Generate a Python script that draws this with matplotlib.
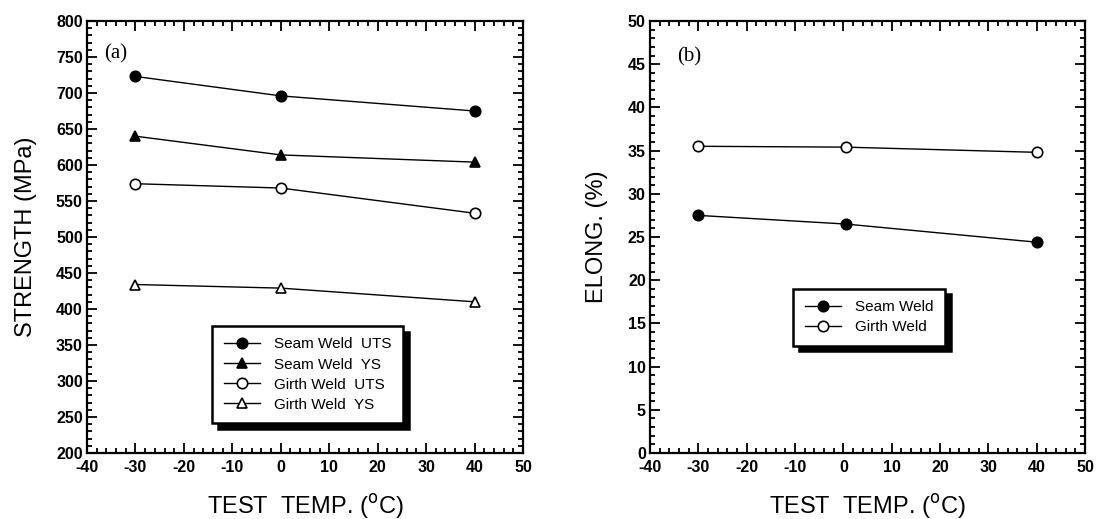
import matplotlib
matplotlib.use("Agg")
import matplotlib.pyplot as plt
from matplotlib.ticker import MultipleLocator

plt.rcParams['font.family'] = ['Liberation Sans', 'DejaVu Sans']

# test temperatures (deg C)
temps = [-30, 0, 40]
temps_b = [-30, 0.5, 40]

# strength (MPa), panel (a)
seam_uts = [723, 696, 675]
seam_ys = [640, 614, 604]
girth_uts = [574, 568, 533]
girth_ys = [434, 429, 410]

# elongation (%), panel (b)
seam_el = [27.5, 26.5, 24.4]
girth_el = [35.5, 35.4, 34.8]

fig = plt.figure(figsize=(10.99, 5.19), dpi=100)
W, H = 1099, 519
ax1 = fig.add_axes([87 / W, 1 - 453 / H, (523 - 87) / W, (453 - 21) / H])
ax2 = fig.add_axes([650 / W, 1 - 453 / H, (1085 - 650) / W, (453 - 21) / H])


def style_axis(ax, ymin, ymax, ymaj, ymin_step):
    ax.set_xlim(-40, 50)
    ax.set_ylim(ymin, ymax)
    ax.xaxis.set_major_locator(MultipleLocator(10))
    ax.xaxis.set_minor_locator(MultipleLocator(2))
    ax.yaxis.set_major_locator(MultipleLocator(ymaj))
    ax.yaxis.set_minor_locator(MultipleLocator(ymin_step))
    ax.tick_params(which='both', direction='in', top=True, right=True, width=1.3)
    ax.tick_params(which='major', length=7, labelsize=11.5, pad=3)
    ax.tick_params(axis='x', which='major', pad=5)
    ax.tick_params(which='minor', length=3.5)
    ax.xaxis.set_major_formatter(plt.FuncFormatter(lambda v, p: '%d' % v))
    ax.yaxis.set_major_formatter(plt.FuncFormatter(lambda v, p: '%d' % v))
    for lab in ax.get_xticklabels() + ax.get_yticklabels():
        lab.set_fontweight('bold')
    for sp in ax.spines.values():
        sp.set_linewidth(1.6)
    ax.set_xlabel('TEST  TEMP. ($^{\\mathrm{o}}$C)', fontsize=17, labelpad=12)


def add_legend(ax, loc):
    leg = ax.legend(loc='upper left', bbox_to_anchor=loc, fancybox=False,
                    shadow={'ox': 4, 'oy': -4, 'color': 'black', 'alpha': 1},
                    edgecolor='black', framealpha=1, fontsize=11,
                    handlelength=2.4, handletextpad=0.9, labelspacing=0.4,
                    borderpad=0.75, borderaxespad=0)
    leg.get_frame().set_linewidth(1.8)
    return leg


mk = dict(color='black', lw=1.0, ms=7.5, mec='black', mew=1.2)

# panel (a)
ax1.plot(temps, seam_uts, marker='o', mfc='black', label='Seam Weld  UTS', **mk)
ax1.plot(temps, seam_ys, marker='^', mfc='black', label='Seam Weld  YS', **mk)
ax1.plot(temps, girth_uts, marker='o', mfc='white', label='Girth Weld  UTS', **mk)
ax1.plot(temps, girth_ys, marker='^', mfc='white', label='Girth Weld  YS', **mk)
style_axis(ax1, 200, 800, 50, 10)
ax1.set_ylabel('STRENGTH (MPa)', fontsize=17, labelpad=14)
ax1.text(0.04, 0.925, '(a)', transform=ax1.transAxes, fontsize=15, va='center',
         family=['Liberation Serif', 'DejaVu Serif'])
add_legend(ax1, (0.287, 0.294))

# panel (b)
ax2.plot(temps_b, seam_el, marker='o', mfc='black', label='Seam Weld', **mk)
ax2.plot(temps_b, girth_el, marker='o', mfc='white', label='Girth Weld', **mk)
style_axis(ax2, 0, 50, 5, 1)
ax2.set_ylabel('ELONG. (%)', fontsize=17, labelpad=14)
ax2.text(0.062, 0.918, '(b)', transform=ax2.transAxes, fontsize=15, va='center',
         family=['Liberation Serif', 'DejaVu Serif'])
add_legend(ax2, (0.329, 0.38))

fig.savefig('out.png', dpi=100)
